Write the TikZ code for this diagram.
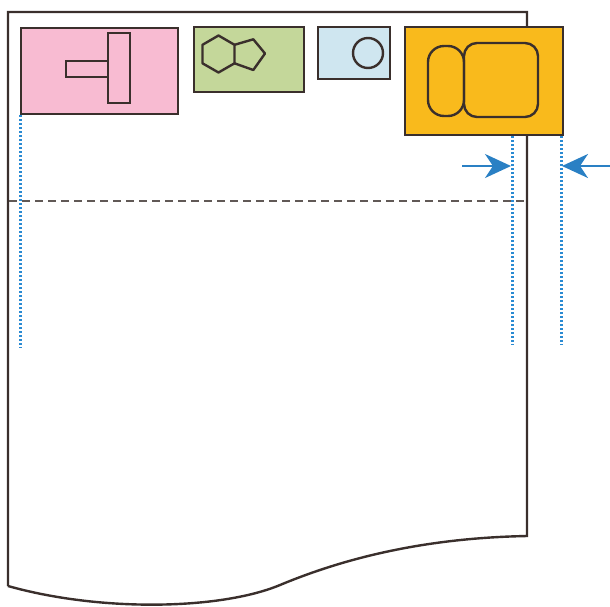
\documentclass[tikz,border=0pt]{standalone}
\usetikzlibrary{arrows.meta}
\definecolor{ink}{HTML}{3A2F2C}
\definecolor{pinkf}{HTML}{F8BBD2}
\definecolor{greenf}{HTML}{C4D79A}
\definecolor{bluef}{HTML}{CFE6F0}
\definecolor{orangef}{HTML}{F9BA1C}
\definecolor{dotblue}{HTML}{2A8AD2}
\definecolor{arrblue}{HTML}{2A80C4}
\begin{document}
\begin{tikzpicture}[x=1pt,y=-1pt,
  box/.style={draw=ink,line width=2.4pt,inner sep=0pt,anchor=north west},
  shp/.style={draw=ink,line width=2.4pt},
  guide/.style={draw=dotblue,line width=3pt,dash pattern=on 2.2pt off 1.8pt},
  arr/.style={draw=arrblue,line width=2.6pt,-{Stealth[length=26pt,width=24pt,inset=8pt]}}]
\useasboundingbox (0,0) rectangle (610,606);
% paper
\draw[ink,line width=2.4pt,line join=miter] (8,586) -- (8,12) -- (527,12) -- (527,536)
  .. controls (420,538) and (340,560) .. (280,585)
  .. controls (220,610) and (100,612) .. (8,586);
% dashed line
\coordinate (dl) at (9,201);
\coordinate (dr) at (526,201);
\draw[draw=ink!80,line width=1.4pt,dash pattern=on 8pt off 5pt] (dl) -- (dr);
% boxes
\node[box,fill=pinkf,minimum width=157pt,minimum height=86pt] (pink) at (20,27) {};
\node[box,fill=greenf,minimum width=110pt,minimum height=65pt] (green) at (193,26) {};
\node[box,fill=bluef,minimum width=72pt,minimum height=52pt] (blue) at (317,26) {};
\node[box,fill=orangef,minimum width=158pt,minimum height=108pt] (orange) at (404,26) {};
% pink contents
\draw[shp,fill=pinkf] (66,61) rectangle (108,77);
\draw[shp,fill=pinkf] (108,33) rectangle (130,103);
% green contents
\draw[shp,line join=round] (218.5,35.5) -- (234.5,44.8) -- (234.5,63.3) -- (218.5,72.5) -- (202.5,63.3) -- (202.5,44.8) -- cycle;
\draw[shp,line join=round] (234.5,44.8) -- (253.3,39.3) -- (265,53.5) -- (253.3,70) -- (234.5,63.3);
% blue contents
\draw[shp] (368,53) circle (15);
% orange contents
\draw[shp,rounded corners=16pt] (428,46) rectangle (464,116);
\draw[shp,rounded corners=13pt] (464,43) rectangle (538,117);
% guides
\coordinate (g1a) at (20,115);
\coordinate (g1b) at (20,348);
\coordinate (g2a) at (512,136);
\coordinate (g2b) at (512,345);
\coordinate (g3a) at (561,136);
\coordinate (g3b) at (561,345);
\draw[guide] (g1a) -- (g1b);
\draw[guide] (g2a) -- (g2b);
\draw[guide] (g3a) -- (g3b);
% arrows
\coordinate (a1s) at (462,166);
\coordinate (a1e) at (511,166);
\coordinate (a2s) at (610,166);
\coordinate (a2e) at (562,166);
\draw[arr] (a1s) -- (a1e);
\draw[arr] (a2s) -- (a2e);
\end{tikzpicture}
\end{document}
